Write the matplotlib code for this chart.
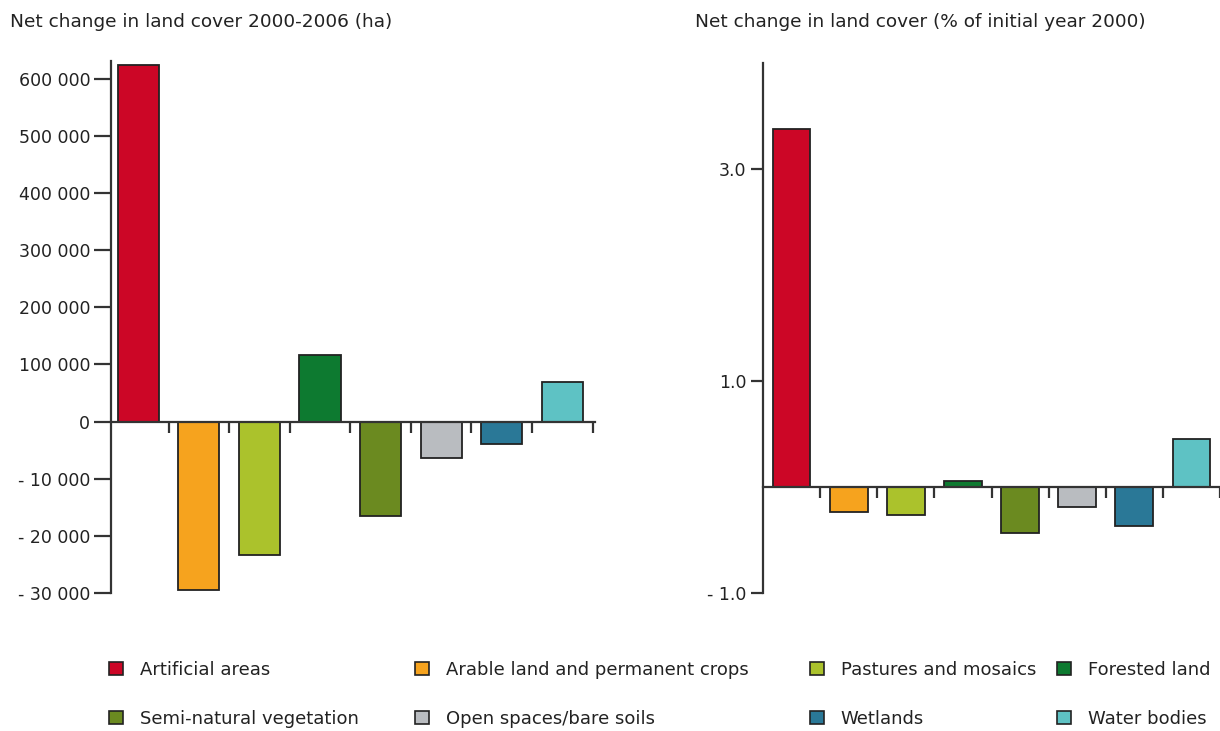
import numpy as np
import matplotlib.pyplot as plt
from matplotlib.patches import Patch

plt.rcParams['font.family'] = ['DejaVu Sans']

categories = ['Artificial areas', 'Arable land and permanent crops', 'Pastures and mosaics',
              'Forested land', 'Semi-natural vegetation', 'Open spaces/bare soils',
              'Wetlands', 'Water bodies']
colors = ['#cc0626', '#f6a31e', '#abc22c', '#0d7a30', '#6b8a20', '#b9bcc0', '#2a7897', '#5ec2c4']

# net change 2000-2006 (ha)
ha_change = [624000, -29400, -23400, 116000, -16500, -6400, -3900, 69000]
# net change (% of 2000)
pct_change = [3.38, -0.24, -0.26, 0.06, -0.43, -0.19, -0.37, 0.45]

left_ticks = [-30000, -20000, -10000, 0, 100000, 200000, 300000, 400000, 500000, 600000]
right_ticks = [-1.0, 1.0, 3.0]
right_labels = ['- 1.0', '1.0', '3.0']

# legend columns (pairs shown top/bottom)
legend_cols = [[0, 4], [1, 5], [2, 6], [3, 7]]

ink = '#333333'


def fwd(v):
    v = np.asarray(v, dtype=float)
    return np.where(v >= 0, v / 10.0, v)


def inv(t):
    t = np.asarray(t, dtype=float)
    return np.where(t >= 0, t * 10.0, t)


def fmt_ha(v):
    s = f"{abs(int(v)):,}".replace(',', ' ')
    return '- ' + s if v < 0 else s


def style_axes(ax, xlim, ylen):
    ax.spines['top'].set_visible(False)
    ax.spines['right'].set_visible(False)
    ax.spines['bottom'].set_position(('data', 0))
    for sp in ('left', 'bottom'):
        ax.spines[sp].set_color(ink)
        ax.spines[sp].set_linewidth(1.6)
    ax.set_xlim(*xlim)
    ax.set_xticks(np.arange(0.5, 8, 1.0))
    ax.set_xticklabels([])
    ax.tick_params(axis='x', direction='out', length=8, width=1.6, color=ink)
    ax.tick_params(axis='y', direction='out', length=ylen, width=1.6, color=ink,
                   labelsize=12.5, labelcolor='#222222', pad=3)


fig = plt.figure(figsize=(12.2, 7.31), dpi=100)

x = np.arange(len(categories))

# left chart: ha, with a compressed positive part
ax1 = fig.add_axes([111 / 1220, 1 - 593 / 731, 484 / 1220, 532 / 731])
ax1.set_yscale('function', functions=(fwd, inv))
ax1.bar(x, ha_change, width=0.68, color=colors, edgecolor='#222222', linewidth=1.3, zorder=2)
ax1.set_ylim(-30000, 631000)
ax1.set_yticks(left_ticks)
ax1.set_yticklabels([fmt_ha(v) for v in left_ticks])
ax1.yaxis.set_minor_locator(plt.NullLocator())
style_axes(ax1, (-0.45, 7.54), 12)

# right chart: percent
ax2 = fig.add_axes([763 / 1220, 1 - 593 / 731, 457 / 1220, 530 / 731])
ax2.bar(x, pct_change, width=0.66, color=colors, edgecolor='#222222', linewidth=1.3, zorder=2)
ax2.set_ylim(-1.0, 4.0)
ax2.set_yticks(right_ticks)
ax2.set_yticklabels(right_labels)
style_axes(ax2, (-0.5, 7.36), 9)

fig.text(10 / 1220, 1 - 22 / 731, 'Net change in land cover 2000-2006 (ha)',
         fontsize=13.3, color='#222222', va='center', ha='left')
fig.text(695 / 1220, 1 - 22 / 731, 'Net change in land cover (% of initial year 2000)',
         fontsize=13.3, color='#222222', va='center', ha='left')

col_x = [109, 415, 810, 1057]
for cx, idx in zip(col_x, legend_cols):
    handles = [Patch(facecolor=colors[i], edgecolor='#222222', linewidth=1.2) for i in idx]
    fig.legend(handles, [categories[i] for i in idx], loc='center left',
               bbox_to_anchor=(cx / 1220, 1 - 694.5 / 731), frameon=False,
               fontsize=13, handlelength=0.75, handleheight=0.75, handletextpad=0.95,
               labelspacing=1.7, borderpad=0, borderaxespad=0, labelcolor='#222222')

fig.savefig('out.png', dpi=100)
